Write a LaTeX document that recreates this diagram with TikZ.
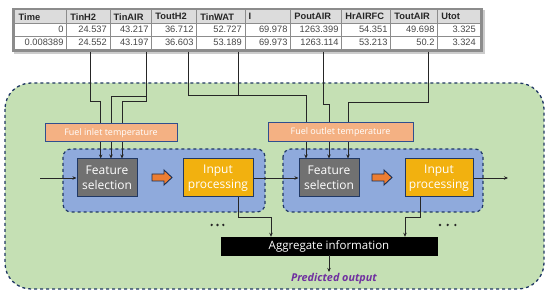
\documentclass[tikz,border=0pt]{standalone}
\usepackage{fontspec}
\setmainfont{Open Sans}
\newfontfamily\tabfont{Liberation Sans}
\usetikzlibrary{arrows.meta}
\definecolor{greenbg}{HTML}{C5E0B4}
\definecolor{bluebg}{HTML}{8FAADC}
\definecolor{navy}{HTML}{203864}
\definecolor{fsgray}{HTML}{717171}
\definecolor{ipgold}{HTML}{F2B10F}
\definecolor{salmon}{HTML}{F4B183}
\definecolor{lblborder}{HTML}{2F4F8F}
\definecolor{orangearr}{HTML}{ED7D31}
\definecolor{purpleout}{HTML}{7030A0}
\definecolor{tabgray}{HTML}{8C8C8C}
\definecolor{tabhead}{HTML}{DCDCDC}
\definecolor{tabtext}{HTML}{262626}
\tikzset{
  outerbox/.style={draw=navy, fill=greenbg, dashed, line width=1.3pt, rounded corners=26pt},
  groupbox/.style={draw=navy, fill=bluebg, dashed, line width=1.2pt, rounded corners=8pt},
  fsbox/.style={draw=navy, fill=fsgray, line width=1pt, text=white, align=center, font=\fontsize{12}{14.5}\selectfont, inner sep=0pt},
  ipbox/.style={draw=navy, fill=ipgold, line width=1pt, text=white, align=center, font=\fontsize{12}{14.5}\selectfont, inner sep=0pt},
  lblbox/.style={draw=lblborder, fill=salmon, line width=1pt, text=white, font=\fontsize{9}{10}\selectfont, inner sep=0pt},
  aggbox/.style={draw=black, fill=black, text=white, font=\fontsize{11.5}{12}\selectfont, inner sep=0pt},
  conn/.style={draw=black!85, line width=0.8pt},
  connarr/.style={conn, -{Stealth[length=4pt,width=3.5pt]}},
  blockarrow/.style={draw=navy!80!black, fill=orangearr, line width=0.9pt, line join=miter},
  hcell/.style={anchor=west, font=\tabfont\bfseries\fontsize{9.3}{10}\selectfont, text=tabtext, inner sep=0pt},
  dcell/.style={anchor=east, font=\tabfont\fontsize{9.3}{10}\selectfont, text=tabtext!85, inner sep=0pt},
  dotmark/.style={circle, fill=black!85, inner sep=0pt, minimum size=2.6pt}
}
\begin{document}
\begin{tikzpicture}[x=1pt,y=-1pt]
\useasboundingbox (0,0) rectangle (550,296);
\fill[white] (0,0) rectangle (550,296);
% ---------- table ----------
\fill[black!20] (14,10) rectangle (485,54);
\fill[tabgray] (12,8) rectangle (483,52);
\fill[white] (15,10.5) rectangle (480,49);
\fill[tabhead] (15,10.5) rectangle (480,23);
\foreach \x in {66.7,110,151.7,196.7,245,290.7,341.7,390.7,437.7}
  \draw[tabgray, line width=0.8pt] (\x,10.5) -- (\x,49);
\foreach \y in {23,36}
  \draw[tabgray, line width=0.8pt] (15,\y) -- (480,\y);
\foreach \i/\l/\r/\h/\a/\b in {1/15/66.7/Time/0/0.008389, 2/66.7/110/TinH2/24.537/24.552, 3/110/151.7/TinAIR/43.217/43.197, 4/151.7/196.7/ToutH2/36.712/36.603, 5/196.7/245/TinWAT/52.727/53.189, 6/245/290.7/I/69.978/69.973, 7/290.7/341.7/PoutAIR/1263.399/1263.114, 8/341.7/390.7/HrAIRFC/54.351/53.213, 9/390.7/437.7/ToutAIR/49.698/50.2, 10/437.7/479/Utot/3.325/3.324}{
  \node[hcell] (h\i) at (\l+3.5,16.8) {\h};
  \node[dcell] (a\i) at (\r-3,29.5) {\a};
  \node[dcell] (b\i) at (\r-3,42.5) {\b};
}
% ---------- containers ----------
\path[outerbox] (5,83) rectangle (544,289);
\path[groupbox] (63,149) rectangle (265,212);
\path[groupbox] (283,149) rectangle (483,212);
% ---------- main boxes ----------
\node[fsbox, minimum width=60pt, minimum height=38pt] (fs1) at (107,178) {Feature\\selection};
\node[ipbox, minimum width=70pt, minimum height=38pt] (ip1) at (218,178) {Input\\processing};
\node[fsbox, minimum width=60pt, minimum height=38pt] (fs2) at (329,178) {Feature\\selection};
\node[ipbox, minimum width=68pt, minimum height=38pt] (ip2) at (439,178) {Input\\processing};
\node[aggbox, minimum width=216pt, minimum height=18pt] (agg) at (329,246) {Aggregate information};
\node[font=\fontsize{10.8}{12}\selectfont\bfseries\itshape, text=purpleout, inner sep=0pt] (pred) at (334,279) {Predicted output};
% ---------- table-to-box connectors ----------
\coordinate (sTinH2) at (90,52);
\coordinate (sTinAIR) at (146.5,52);
\coordinate (sToutH2) at (188,52);
\coordinate (sTinWAT) at (238,52);
\coordinate (sPoutAIR) at (323,52);
\coordinate (sToutAIR) at (428,52);
\draw[conn] (sTinH2) |- (100.7,101);
\draw[connarr] (100.7,101) -- (100.7,0 |- fs1.north) ;
\draw[conn] (sTinAIR) -- (146.5,101);
\draw[connarr] (sTinAIR |- 0,96) -| (111,0 |- fs1.north);
\draw[connarr] (sTinAIR |- 0,101) -| (122,0 |- fs1.north);
\draw[conn] (sTinWAT) -- (238,95);
\draw[connarr] (sToutH2) |- (306,95) -- (306,0 |- fs2.north);
\draw[connarr] (sPoutAIR) |- (329,104) -- (329,0 |- fs2.north);
\draw[connarr] (sToutAIR) |- (348,102) -- (348,0 |- fs2.north);
% ---------- label boxes ----------
\node[lblbox, minimum width=132pt, minimum height=18pt] (lbl1) at (111,133) {Fuel inlet temperature};
\node[lblbox, minimum width=145pt, minimum height=19pt] (lbl2) at (340.5,132.5) {Fuel outlet temperature};
% ---------- flow ----------
\coordinate (in) at (40,178);
\coordinate (out) at (508,178);
\draw[connarr] (in) -- (fs1.west);
\draw[connarr] (ip1.east) -- (fs2.west);
\draw[connarr] (ip2.east) -- (out);
\draw[blockarrow] (152,174) -- (164,174) -- (164,170) -- (172,177.5) -- (164,185) -- (164,181) -- (152,181) -- cycle;
\draw[blockarrow] (372,174) -- (384,174) -- (384,170) -- (392,177.5) -- (384,185) -- (384,181) -- (372,181) -- cycle;
\draw[connarr] (238,0 |- ip1.south) |- (271,217) -- (271,0 |- agg.north);
\draw[connarr] (420,0 |- ip2.south) |- (405,217) -- (405,0 |- agg.north);
\draw[connarr] (agg.south -| 329,0) -- (329,272);
\foreach \x in {211.7,217.5,223.3} \node[dotmark] (dl\x) at (\x,225) {};
\foreach \x in {440,447.7,455.4} \node[dotmark] (dr\x) at (\x,225) {};
\end{tikzpicture}
\end{document}
